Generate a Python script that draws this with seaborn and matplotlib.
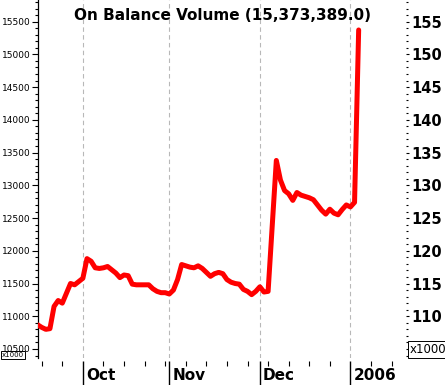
import numpy as np
import pandas as pd
import matplotlib
matplotlib.use('Agg')
import matplotlib.pyplot as plt
import matplotlib.transforms as mtrans
from matplotlib.ticker import MultipleLocator, FixedLocator, NullFormatter, FormatStrFormatter
import seaborn as sns

# ---------------- data ----------------
start_date = '2005-09-16'          # first trading day shown
obv_thousands = [10870, 10830, 10800, 10810, 11150, 11240, 11200, 11350, 11500, 11480,
                 11530, 11580, 11880, 11840, 11740, 11730, 11740, 11760, 11710, 11660,
                 11590, 11630, 11620, 11490, 11480, 11480, 11480, 11480, 11420, 11380,
                 11360, 11360, 11340, 11400, 11560, 11790, 11770, 11750, 11740, 11770,
                 11730, 11670, 11610, 11650, 11670, 11650, 11560, 11520, 11500, 11490,
                 11410, 11380, 11330, 11380, 11450, 11370, 11380, 12380, 13380, 13080,
                 12920, 12870, 12770, 12890, 12850, 12830, 12810, 12780, 12700, 12620,
                 12560, 12635, 12575, 12550, 12630, 12700, 12670, 12740, 15373]
last_obv = 15373389.0
month_labels = ['Oct', 'Nov', 'Dec', '2006']
left_ticks = [10500, 11000, 11500, 12000, 12500, 13000, 13500, 14000, 14500, 15000, 15500]
right_ticks = [110, 115, 120, 125, 130, 135, 140, 145, 150, 155]

# ---------------- layout ----------------
W, H = 445, 385
sns.set_style('white')
plt.rcParams['font.family'] = ['DejaVu Sans']
plt.rcParams['text.color'] = 'black'
plt.rcParams['xtick.color'] = 'black'
plt.rcParams['ytick.color'] = 'black'

fig = plt.figure(figsize=(W / 100, H / 100), dpi=100)
L, R, B = 38, 406, 358
ax = fig.add_axes([L / W, 1 - B / H, (R - L) / W, B / H])

n_axis_days = 90
axis_dates = pd.bdate_range(start_date, periods=n_axis_days)
df = pd.DataFrame({'idx': np.arange(len(obv_thousands)), 'obv': obv_thousands})

sns.lineplot(data=df, x='idx', y='obv', ax=ax, color='#ff0000', linewidth=3.6, zorder=5)

ax.set_xlim(0.1, 89.5)
ax.set_ylim(10362, 15831)
ax.set_xlabel('')
ax.set_ylabel('')

# month starts & weekly (Monday) ticks
month_start_idx = [i for i in range(1, n_axis_days) if axis_dates[i].month != axis_dates[i - 1].month]
monday_idx = [i for i in range(n_axis_days) if axis_dates[i].weekday() == 0]
ax.xaxis.set_major_locator(FixedLocator(month_start_idx))
ax.xaxis.set_minor_locator(FixedLocator(monday_idx))
ax.xaxis.set_major_formatter(NullFormatter())
ax.xaxis.set_minor_formatter(NullFormatter())
ax.spines['bottom'].set_position(('outward', 2))
ax.tick_params(axis='x', which='major', bottom=True, top=False, direction='out',
               length=19, width=1.0, color='black')
ax.tick_params(axis='x', which='minor', bottom=True, top=False, direction='out',
               length=3.6, width=0.8, color='black')
ax.grid(True, axis='x', which='major', color='#b8b8b8', linestyle=(0, (4, 3)), linewidth=0.8)
ax.grid(False, axis='y')

for s in ['top', 'right', 'bottom']:
    ax.spines[s].set_visible(False)
ax.spines['left'].set_color('black')
ax.spines['left'].set_linewidth(0.9)

ax.yaxis.set_major_locator(FixedLocator(left_ticks))
ax.yaxis.set_minor_locator(MultipleLocator(100))
ax.yaxis.set_major_formatter(FormatStrFormatter('%d'))
ax.tick_params(axis='y', which='major', left=True, right=False, direction='out', length=4.3,
               width=0.8, labelsize=6.5, pad=1, color='black', labelcolor='black')
ax.tick_params(axis='y', which='minor', left=True, right=False, direction='out', length=2.2,
               width=0.8, color='black')

# month labels (to the right of each month line)
base = mtrans.blended_transform_factory(ax.transData, ax.transAxes)
lab_tr = mtrans.offset_copy(base, fig=fig, x=3, y=-22.5, units='dots')
for i, lab in zip(month_start_idx, month_labels):
    ax.text(i, 0, lab, transform=lab_tr, ha='left', va='baseline',
            fontsize=11, fontweight='bold', color='black', clip_on=False)

# right axis
ax2 = ax.twinx()
ax2.set_ylim(10362 / 100, 15831 / 100)
ax2.yaxis.set_major_locator(FixedLocator(right_ticks))
ax2.yaxis.set_minor_locator(MultipleLocator(1))
ax2.yaxis.set_major_formatter(FormatStrFormatter('%d'))
for s in ax2.spines.values():
    s.set_visible(False)
ax2.tick_params(axis='y', which='major', right=True, left=False, direction='out', length=2.5,
                width=0.8, pad=1, labelsize=10.5, color='black', labelcolor='black')
ax2.tick_params(axis='y', which='minor', right=True, left=False, direction='out', length=1.5,
                width=0.8, color='black')
for t in ax2.get_yticklabels():
    t.set_fontweight('bold')
ax2.grid(False)

# title
fig.text(0.5, 1 - 20 / H, f'On Balance Volume ({last_obv:,.1f})', ha='center', va='baseline',
         fontsize=11, fontweight='bold', color='black')

# x1000 boxes
fig.text(2 / W, 1 - 357 / H, 'x1000', fontsize=5, ha='left', va='baseline', color='black',
         bbox=dict(boxstyle='square,pad=0.1', fc='white', ec='black', lw=0.7))
fig.text(410 / W, 1 - 353 / H, 'x1000', fontsize=8.5, ha='left', va='baseline', color='black',
         bbox=dict(boxstyle='square,pad=0.2', fc='white', ec='black', lw=0.7))

fig.savefig('out.png', dpi=100)
